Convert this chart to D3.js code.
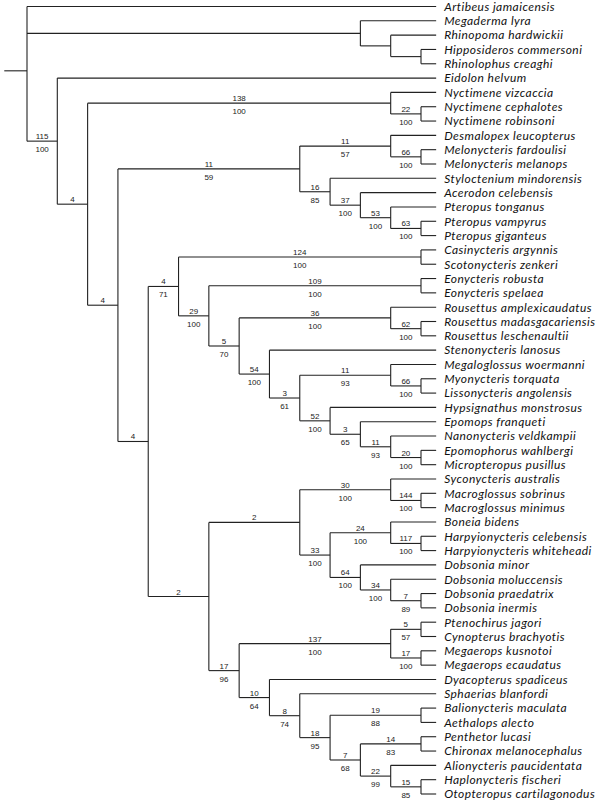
<!DOCTYPE html>
<html>
<head>
<meta charset="utf-8">
<script src="https://cdn.jsdelivr.net/npm/d3@7"></script>
<style>
  body { margin: 0; background: #fff; }
  .branch { stroke: #222; stroke-width: 1.1; fill: none; }
  .taxon { font-family: Lato, "Open Sans", sans-serif; font-style: italic; font-size: 12px; letter-spacing: 0.45px; fill: #111; }
  .support { font-family: "Liberation Sans", Arial, sans-serif; font-size: 8px; fill: #222; }
</style>
</head>
<body>
<svg id="tree" width="600" height="800"></svg>
<script>
// leaves, top to bottom
var taxa = [
    "Artibeus jamaicensis", "Megaderma lyra", "Rhinopoma hardwickii", "Hipposideros commersoni",
    "Rhinolophus creaghi", "Eidolon helvum", "Nyctimene vizcaccia", "Nyctimene cephalotes",
    "Nyctimene robinsoni", "Desmalopex leucopterus", "Melonycteris fardoulisi", "Melonycteris melanops",
    "Styloctenium mindorensis", "Acerodon celebensis", "Pteropus tonganus", "Pteropus vampyrus",
    "Pteropus giganteus", "Casinycteris argynnis", "Scotonycteris zenkeri", "Eonycteris robusta",
    "Eonycteris spelaea", "Rousettus amplexicaudatus", "Rousettus madasgacariensis", "Rousettus leschenaultii",
    "Stenonycteris lanosus", "Megaloglossus woermanni", "Myonycteris torquata", "Lissonycteris angolensis",
    "Hypsignathus monstrosus", "Epomops franqueti", "Nanonycteris veldkampii", "Epomophorus wahlbergi",
    "Micropteropus pusillus", "Syconycteris australis", "Macroglossus sobrinus", "Macroglossus minimus",
    "Boneia bidens", "Harpyionycteris celebensis", "Harpyionycteris whiteheadi", "Dobsonia minor",
    "Dobsonia moluccensis", "Dobsonia praedatrix", "Dobsonia inermis", "Ptenochirus jagori",
    "Cynopterus brachyotis", "Megaerops kusnotoi", "Megaerops ecaudatus", "Dyacopterus spadiceus",
    "Sphaerias blanfordi", "Balionycteris maculata", "Aethalops alecto", "Penthetor lucasi",
    "Chironax melanocephalus", "Alionycteris paucidentata", "Haplonycteris fischeri", "Otopteropus cartilagonodus"
];

// clades as ranges of leaves (first, last), with the numbers above / below their branch
var cladeFirst = [0, 1, 2, 3, 5, 6, 6, 7, 9, 9, 9, 10, 12, 13, 14, 15, 17, 17, 17, 19, 19, 21, 21, 22,
    24, 25, 25, 26, 28, 29, 30, 31, 33, 33, 33, 34, 36, 36, 37, 39, 40, 41, 43, 43, 43, 45, 47, 48, 49,
    49, 51, 51, 53, 54];
var cladeLast = [55, 4, 4, 4, 55, 55, 8, 8, 55, 16, 11, 11, 16, 16, 16, 16, 55, 32, 18, 32, 20, 32, 23, 23,
    32, 32, 27, 27, 32, 32, 32, 32, 55, 42, 35, 35, 42, 38, 38, 42, 42, 42, 55, 46, 44, 46, 55, 55, 55,
    50, 55, 52, 55, 55];
var bremer = ["", "", "", "", "115", "4", "138", "22", "4", "11", "11", "66", "16", "37", "53", "63", "4", "4", "124", "29",
    "109", "5", "36", "62", "54", "3", "11", "66", "52", "3", "11", "20", "2", "2", "30", "144", "33", "24",
    "117", "64", "34", "7", "17", "137", "5", "17", "10", "8", "18", "19", "7", "14", "22", "15"];
var bootstrap = ["", "", "", "", "100", "", "100", "100", "", "59", "57", "100", "85", "100", "100", "100", "", "71", "100", "100",
    "100", "70", "100", "100", "100", "61", "93", "100", "100", "65", "93", "100", "", "", "100", "100", "100", "100",
    "100", "100", "100", "89", "96", "100", "57", "100", "64", "74", "95", "88", "68", "83", "99", "85"];

var svg = d3.select("#tree");

// smallest clade that holds a range
function parentOf(first, last, self) {
    var best = null;
    for (var k = 0; k < cladeFirst.length; k++) {
        if (k === self) continue;
        if (cladeFirst[k] <= first && cladeLast[k] >= last) {
            if (best === null || (cladeLast[k] - cladeFirst[k]) < (cladeLast[best] - cladeFirst[best])) best = k;
        }
    }
    return best === null ? null : "C" + best;
}

var rows = [];
cladeFirst.forEach(function(f, k) {
    rows.push({id: "C" + k, parent: parentOf(f, cladeLast[k], k), first: f, top: bremer[k], bottom: bootstrap[k]});
});
taxa.forEach(function(name, i) {
    rows.push({id: "L" + i, parent: parentOf(i, i, -1), first: i, name: name});
});

var root = d3.stratify().id(function(d) { return d.id; }).parentId(function(d) { return d.parent; })(rows);
root.sort(function(a, b) { return a.data.first - b.data.first; });

var y_scale = d3.scaleLinear().domain([0, taxa.length - 1]).range([6.5, 794]);
var x_scale = d3.scaleLinear().domain([root.height, 1]).range([27, 421]);

root.eachAfter(function(d) {
    if (d.children) {
        d.py = (d.children[0].py + d.children[d.children.length - 1].py) / 2;
        d.px = x_scale(d.height);
    } else {
        d.py = y_scale(d.data.first);
        d.px = x_scale(0.5);
    }
});
// the root sits a little above the middle of its span in the reference
root.py -= 3;

// root stub
svg.append("line").attr("class", "branch")
    .attr("x1", x_scale(root.height + 0.75)).attr("x2", root.px)
    .attr("y1", root.py).attr("y2", root.py);

// horizontal branches
svg.selectAll("line.h")
    .data(root.descendants().slice(1))
    .enter()
    .append("line")
    .attr("class", "branch h")
    .attr("x1", function(d) { return d.parent.px; })
    .attr("x2", function(d) { return d.px; })
    .attr("y1", function(d) { return d.py; })
    .attr("y2", function(d) { return d.py; });

// vertical connectors
svg.selectAll("line.v")
    .data(root.descendants().filter(function(d) { return d.children; }))
    .enter()
    .append("line")
    .attr("class", "branch v")
    .attr("x1", function(d) { return d.px; })
    .attr("x2", function(d) { return d.px; })
    .attr("y1", function(d) { return d.children[0].py; })
    .attr("y2", function(d) { return d.children[d.children.length - 1].py; });

var inner = root.descendants().filter(function(d) { return d.children && d.parent; });

svg.selectAll("text.top")
    .data(inner)
    .enter()
    .append("text")
    .attr("class", "support top")
    .attr("text-anchor", "middle")
    .attr("x", function(d) { return (d.parent.px + d.px) / 2; })
    .attr("y", function(d) { return d.py - 2; })
    .text(function(d) { return d.data.top; });

svg.selectAll("text.bottom")
    .data(inner)
    .enter()
    .append("text")
    .attr("class", "support bottom")
    .attr("text-anchor", "middle")
    .attr("x", function(d) { return (d.parent.px + d.px) / 2; })
    .attr("y", function(d) { return d.py + 11; })
    .text(function(d) { return d.data.bottom; });

svg.selectAll("text.taxon")
    .data(root.leaves())
    .enter()
    .append("text")
    .attr("class", "taxon")
    .attr("x", function(d) { return d.px + 8; })
    .attr("y", function(d) { return d.py; })
    .attr("dy", "0.36em")
    .text(function(d) { return d.data.name; });
</script>
</body>
</html>
